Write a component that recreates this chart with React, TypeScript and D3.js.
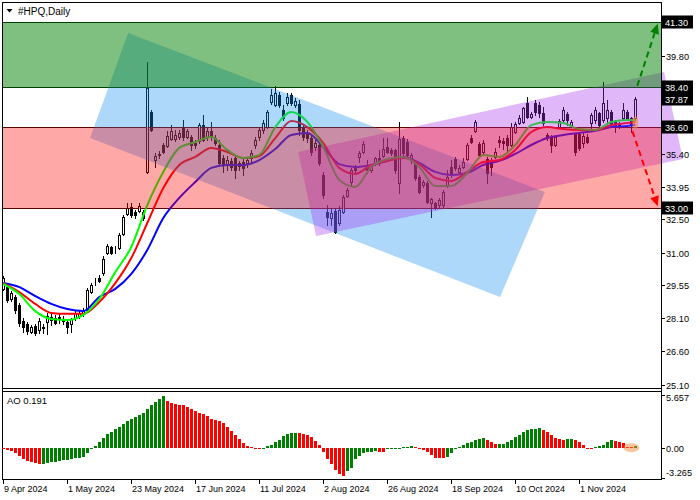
import React from "react";
import * as d3 from "d3";

const symbolTitle = "#HPQ,Daily";

const openP = [29.39,29.47,28.94,29.03,28.67,27.96,27.82,27.47,27.73,27.56,
27.69,27.91,28.00,28.09,28.14,28.05,27.91,27.82,28.09,28.18,
28.32,28.45,29.25,29.73,29.88,30.10,30.99,31.26,31.17,31.21,
31.84,32.73,33.04,32.82,32.87,32.82,34.61,37.28,35.14,35.37,
35.81,35.77,36.08,36.08,36.17,36.61,36.17,36.17,35.90,35.99,
36.70,36.17,36.43,36.12,35.81,35.23,34.92,35.10,35.23,35.01,
35.05,35.01,35.23,35.81,36.17,36.48,36.61,37.73,37.60,38.04,
37.37,37.69,38.04,37.60,37.64,36.57,36.35,36.12,35.72,35.81,
34.47,32.82,32.55,32.87,32.33,32.82,33.54,34.16,34.83,35.28,
35.50,34.92,34.70,35.01,35.23,35.32,35.72,35.59,35.59,34.12,
36.12,35.94,35.14,35.01,34.38,34.03,34.12,33.22,33.22,33.13,
33.13,34.03,34.83,35.19,34.61,34.83,35.19,36.12,36.43,35.86,
35.50,35.19,35.05,35.28,36.03,35.99,36.12,35.81,36.39,36.79,
36.84,37.69,37.06,37.69,37.60,37.24,36.26,36.17,35.81,36.61,
36.93,37.19,36.70,36.30,36.30,35.90,36.17,36.79,36.93,37.24,
36.93,37.02,37.28,36.84,36.79,37.02,37.28,37.02,37.02];

const highP = [29.97,29.65,29.30,29.12,28.76,28.09,27.91,27.78,27.82,28.09,
27.82,28.32,28.32,28.23,28.27,28.18,28.00,28.09,28.41,28.45,
28.54,29.43,29.65,29.88,30.01,30.86,31.39,31.30,31.30,31.88,
32.69,33.22,33.22,32.91,33.22,32.91,39.52,37.37,35.45,35.54,
35.90,36.43,36.70,36.48,36.48,36.93,36.52,36.26,36.03,36.79,
37.15,36.57,36.84,36.26,36.03,35.37,35.32,35.23,35.37,35.10,
35.23,35.28,35.59,36.17,36.61,36.93,37.37,38.31,38.44,38.17,
37.60,38.13,38.13,37.91,37.82,36.70,36.48,36.21,36.03,35.90,
34.61,33.13,33.00,33.00,33.09,33.58,33.89,34.79,34.92,35.54,
35.99,35.14,34.92,35.28,35.59,36.12,36.12,35.68,35.63,36.84,
36.21,36.08,35.45,35.10,34.47,34.25,34.21,33.45,33.27,33.45,
33.80,34.70,35.14,35.28,34.92,35.23,35.90,36.26,36.93,35.94,
36.03,35.28,35.23,35.68,36.21,36.12,36.26,36.79,36.84,37.15,
37.51,37.95,37.28,37.82,37.73,37.51,36.35,36.26,36.26,36.97,
37.51,37.28,36.93,36.34,36.39,36.34,36.30,37.24,37.51,37.28,
38.62,37.82,37.37,36.93,36.84,37.69,37.37,37.06,37.95];

const lowP = [29.34,28.81,28.85,28.32,27.73,27.47,27.38,27.42,27.33,27.42,
27.42,27.38,27.78,27.82,27.87,27.82,27.42,27.47,28.00,28.09,
28.18,28.36,29.21,29.56,29.70,30.01,30.95,30.95,30.99,31.17,
31.79,32.69,32.60,32.55,32.82,32.47,34.56,36.43,34.83,35.23,
35.45,35.72,36.03,35.99,36.08,36.03,36.12,35.59,35.68,35.90,
35.99,36.03,36.03,35.81,34.92,34.61,34.70,34.70,34.34,34.70,
34.47,34.83,35.05,35.68,36.03,36.35,36.57,37.64,37.55,37.51,
36.93,37.60,37.60,37.51,36.26,36.03,35.94,35.37,35.59,34.92,
33.45,32.24,32.24,31.88,32.24,32.78,33.49,34.03,34.61,35.05,
35.45,34.56,34.61,34.92,34.92,35.28,35.45,35.37,34.56,33.67,
35.37,35.23,35.01,34.25,33.67,33.94,33.22,32.60,32.96,33.04,
33.04,33.94,34.38,34.70,34.56,34.79,35.14,35.90,36.39,35.28,
35.37,34.12,34.47,35.23,35.72,35.63,35.50,35.77,36.35,36.75,
36.79,37.02,37.02,37.15,37.06,36.70,36.03,35.50,35.77,36.57,
36.84,36.70,36.61,35.37,35.59,35.72,35.90,36.48,36.79,36.61,
36.84,36.84,36.66,36.39,36.57,36.93,36.93,36.39,36.93];

const closeP = [29.88,28.90,29.21,28.45,27.87,27.69,27.51,27.69,27.42,27.96,
27.64,28.18,28.14,27.87,28.09,27.96,27.69,28.05,28.32,28.32,
28.45,29.34,29.56,29.76,29.74,30.72,31.30,30.99,31.15,31.79,
32.60,33.00,32.69,32.69,33.09,32.55,38.36,36.48,35.32,35.41,
35.50,36.21,36.43,36.26,36.35,36.17,36.43,35.81,35.81,36.70,
36.03,36.43,36.17,35.90,35.01,34.92,35.14,34.83,34.70,34.87,
34.79,35.14,35.45,36.03,36.48,36.79,37.28,38.04,38.13,37.60,
37.02,37.95,37.69,37.77,36.48,36.17,36.12,35.50,35.90,35.01,
33.58,32.60,32.78,31.93,32.91,33.49,33.80,34.70,34.70,35.45,
35.86,34.70,34.83,35.23,35.01,35.63,35.50,35.45,34.70,36.08,
35.45,35.37,35.37,34.34,33.71,34.16,33.27,33.40,33.04,33.36,
33.71,34.38,34.47,34.79,34.79,35.05,35.81,35.94,36.84,35.37,
35.90,34.56,34.83,35.50,35.94,35.90,35.81,36.61,36.75,37.02,
37.46,37.06,37.19,37.28,37.24,36.79,36.17,35.81,36.17,36.88,
37.37,36.93,36.84,35.50,35.68,36.21,35.94,37.15,37.37,36.70,
37.69,37.37,36.70,36.61,36.61,37.37,37.02,36.70,37.87];

const aoValues = [-0.18,-0.25,-0.39,-0.61,-0.90,-1.18,-1.40,-1.54,-1.65,-1.76,
-1.72,-1.65,-1.58,-1.50,-1.43,-1.36,-1.30,-1.22,-1.15,-1.08,
-0.97,-0.60,-0.15,0.22,0.57,1.04,1.43,1.65,1.97,2.26,
2.58,2.83,3.08,3.33,3.55,3.69,4.12,4.59,4.87,5.20,
5.56,5.02,4.84,4.70,4.62,4.55,4.41,4.19,3.94,3.76,
3.58,3.41,3.05,2.94,2.83,2.69,2.26,1.83,1.36,0.90,
0.50,0.18,0.07,-0.07,-0.14,-0.10,0.18,0.29,0.61,0.86,
1.29,1.47,1.58,1.61,1.58,1.50,1.32,1.10,0.68,0.29,
-0.43,-1.25,-1.76,-2.40,-2.87,-3.01,-2.47,-2.22,-1.22,-0.90,
-0.61,-0.50,-0.43,-0.40,-0.45,-0.46,-0.18,-0.14,-0.07,-0.04,
0.02,0.10,0.13,0.10,-0.04,-0.22,-0.50,-0.82,-1.08,-1.10,
-1.15,-0.97,-0.54,-0.18,0.11,0.25,0.47,0.65,0.82,0.93,
1.04,0.79,0.57,0.39,0.40,0.42,0.61,0.82,1.18,1.40,
1.68,1.90,2.00,2.02,2.08,1.90,1.65,1.36,1.00,0.93,
0.82,0.90,0.97,0.82,0.61,0.32,0.00,-0.11,0.04,0.14,
0.32,0.61,0.79,0.72,0.65,0.54,0.11,0.10,0.191];

const lineIdx = [0,4,8,12,16,20,24,28,32,36,40,44,48,52,56,60,64,68,72,76,80,84,88,92,96,100,104,108,112,116,120,124,128,132,136,140,144,148,152,156,158];
const lipsVals = [29.61,29.16,28.40,28.05,28.00,28.23,28.94,30.14,31.26,33.13,34.61,35.68,35.94,36.17,35.59,35.23,35.37,36.61,37.28,36.84,35.72,34.25,33.94,34.83,35.19,35.28,34.83,33.98,33.98,34.56,35.37,35.28,35.81,36.70,36.84,36.79,36.52,36.48,36.84,36.93,36.93];
const teethVals = [29.65,29.25,28.72,28.32,28.28,28.28,28.81,29.65,30.77,32.33,33.89,34.92,35.28,35.68,35.50,35.23,35.32,36.12,36.88,36.61,35.90,34.79,34.52,34.92,35.10,35.23,34.96,34.34,34.21,34.61,35.05,35.14,35.59,36.39,36.61,36.52,36.48,36.48,36.70,36.79,36.84];
const jawVals = [29.65,29.47,29.07,28.72,28.49,28.40,29.03,29.39,30.06,31.13,32.55,33.45,34.16,34.79,34.92,34.92,35.14,35.63,36.26,36.35,35.72,34.96,34.83,34.92,35.10,35.28,35.01,34.61,34.47,34.56,34.92,35.10,35.41,35.81,36.12,36.26,36.35,36.44,36.61,36.66,36.70];

const priceTicks = [39.8, 36.8, 35.4, 33.95, 32.5, 31.0, 29.55, 28.1, 26.6, 25.1];
const levelPrices = [41.3, 38.4, 36.6, 33.0];
const currentPrice = 37.87;
const dateTickIdx = [0, 16, 32, 48, 64, 80, 96, 112, 128, 144];
const dateTickLabels = ["9 Apr 2024", "1 May 2024", "23 May 2024", "17 Jun 2024", "11 Jul 2024", "2 Aug 2024", "26 Aug 2024", "18 Sep 2024", "10 Oct 2024", "1 Nov 2024"];
const aoTicks = [5.657, 0, -3.265];
const aoTickLabels = ["5.657", "0.00", "-3.265"];
const aoLabel = "AO 0.191";

const blueChannel = [[31.2, 40.81], [135.4, 33.71], [124.2, 29.03], [21.7, 36.12]];
const purpleChannel = [[73.7, 35.5], [165.2, 39.07], [169.9, 35.19], [78.2, 31.75]];
const upperZone = [41.3, 38.4];
const lowerZone = [36.6, 33.0];
const upArrow = [[158.5, 38.45], [163.6, 41.22]];
const downArrow = [[157.3, 36.42], [163.6, 33.08]];
const markBar = 158;
const markPrice = 36.8;
const aoMarkBar = 157;

const FONT = "'Liberation Sans', Arial, sans-serif";

export default function App() {
  const plotL = 3, plotR = 661, mainTop = 3, mainBot = 388;
  const x = d3.scaleLinear().domain([0, 158]).range([3.3, 635.3]);
  const y = d3.scaleLinear().domain([24.97, 42.19]).range([388, 2]);
  const ao = d3.scaleLinear().domain([-3.265, 5.657]).range([478, 395]);

  const px = (i: number) => Math.round(x(i));
  const candles = openP.map((o, i) => {
    const c = closeP[i], h = highP[i], l = lowP[i];
    const cx = px(i);
    const top = Math.round(y(Math.max(o, c)));
    const bot = Math.round(y(Math.min(o, c)));
    const bull = c >= o;
    return (
      <g key={i}>
        <line x1={cx + 0.5} x2={cx + 0.5} y1={Math.round(y(h))} y2={Math.round(y(l)) + 1} stroke="#000" strokeWidth={1} />
        <rect x={cx - 0.5} y={top + 0.5} width={2} height={Math.max(bot - top, 0)} fill={bull ? "#fff" : "#000"} stroke="#000" strokeWidth={1} />
      </g>
    );
  });

  const mkLine = (vals: number[]) =>
    d3.line<number>().x((_, k) => x(lineIdx[k])).y((v) => y(v)).curve(d3.curveMonotoneX)(vals) || "";

  const poly = (pts: number[][]) => pts.map((p) => `${x(p[0])},${y(p[1])}`).join(" ");

  const arrow = (seg: number[][], color: string) => {
    const x1 = x(seg[0][0]), y1 = y(seg[0][1]), x2 = x(seg[1][0]), y2 = y(seg[1][1]);
    const dx = x2 - x1, dy = y2 - y1, len = Math.hypot(dx, dy);
    const ux = dx / len, uy = dy / len;
    const hl = 10, hw = 4.5;
    const bx = x2 - ux * hl, by = y2 - uy * hl;
    const head = `${x2},${y2} ${bx - uy * hw},${by + ux * hw} ${bx + uy * hw},${by - ux * hw}`;
    return (
      <g>
        <line x1={x1} y1={y1} x2={bx} y2={by} stroke={color} strokeWidth={2} strokeDasharray="6,4" />
        <polygon points={head} fill={color} />
      </g>
    );
  };

  const labelBox = (p: number, text: string, key: string) => {
    const yy = Math.round(y(p));
    return (
      <g key={key}>
        <rect x={662} y={yy - 6.5} width={31} height={13} fill="#000" />
        <text x={665} y={yy + 3.5} fontSize={9.2} fill="#fff" fontFamily={FONT}>{text}</text>
      </g>
    );
  };

  const aoZero = Math.round(ao(0));

  return (
    <svg width={700} height={500} style={{ position: "fixed", left: 0, top: 0, background: "#fff", display: "block" }}>
      <defs>
        <clipPath id="plotClip">
          <rect x={plotL} y={mainTop} width={plotR - plotL} height={mainBot - mainTop} />
        </clipPath>
        <clipPath id="fullClip">
          <rect x={plotL} y={mainTop} width={700 - plotL} height={mainBot - mainTop} />
        </clipPath>
      </defs>
      <rect x={0} y={0} width={700} height={500} fill="#fff" />

      <g clipPath="url(#plotClip)">
        {levelPrices.map((p) => (
          <line key={p} x1={plotL} x2={plotR} y1={Math.round(y(p)) + 0.5} y2={Math.round(y(p)) + 0.5} stroke="#000" strokeWidth={1} />
        ))}
        {candles}
        <path d={mkLine(jawVals)} fill="none" stroke="#0000ff" strokeWidth={2} />
        <path d={mkLine(teethVals)} fill="none" stroke="#ff0000" strokeWidth={2} />
        <path d={mkLine(lipsVals)} fill="none" stroke="#00ff00" strokeWidth={2} />
      </g>

      <g clipPath="url(#fullClip)">
        <polygon points={poly(blueChannel)} fill="#1590f1" fillOpacity={0.35} />
        <polygon points={poly(purpleChannel)} fill="#a634f1" fillOpacity={0.35} />
        <rect x={plotL} y={Math.round(y(lowerZone[0]))} width={plotR - plotL}
          height={Math.round(y(lowerZone[1])) - Math.round(y(lowerZone[0])) + 1} fill="#ff0606" fillOpacity={0.35} />
        <rect x={plotL} y={Math.round(y(upperZone[0]))} width={plotR - plotL}
          height={Math.round(y(upperZone[1])) - Math.round(y(upperZone[0])) + 1} fill="#008000" fillOpacity={0.5} />
        <ellipse cx={x(markBar)} cy={y(markPrice)} rx={3} ry={6.5} fill="#f08a3c" fillOpacity={0.6} />
      </g>

      {arrow(upArrow, "#008000")}
      {arrow(downArrow, "#ff0000")}

      <g stroke="#000" strokeWidth={1} fill="none">
        <line x1={2.5} x2={2.5} y1={2} y2={480} />
        <line x1={2} x2={662} y1={2.5} y2={2.5} />
        <line x1={661.5} x2={661.5} y1={2} y2={480} />
        <line x1={2} x2={662} y1={388.5} y2={388.5} />
        <line x1={2} x2={662} y1={391.5} y2={391.5} />
        <line x1={2} x2={662} y1={479.5} y2={479.5} />
      </g>

      <polygon points="6.5,9 12.5,9 9.5,12.5" fill="#000" />
      <text x={18} y={15} fontSize={10} fontFamily={FONT} fill="#000">{symbolTitle}</text>

      {priceTicks.map((p) => {
        const yy = Math.round(y(p));
        return (
          <g key={p}>
            <line x1={662} x2={665} y1={yy + 0.5} y2={yy + 0.5} stroke="#000" />
            <text x={666} y={yy + 3.5} fontSize={9.2} fontFamily={FONT} fill="#000">{p.toFixed(2)}</text>
          </g>
        );
      })}
      {labelBox(41.3, "41.30", "b1")}
      {labelBox(38.4, "38.40", "b2")}
      {labelBox(currentPrice, currentPrice.toFixed(2), "b3")}
      {labelBox(36.6, "36.60", "b4")}
      {labelBox(33.0, "33.00", "b5")}

      <g>
        {aoValues.map((v, i) => {
          const up = i === 0 ? false : v > aoValues[i - 1];
          const yv = Math.round(ao(v));
          const y0 = Math.min(yv, aoZero), y1 = Math.max(yv, aoZero);
          return (
            <rect key={i} x={px(i) - 1} y={y0} width={3} height={Math.max(y1 - y0, 1)} fill={up ? "#008000" : "#ff0000"} />
          );
        })}
        <ellipse cx={x(aoMarkBar)} cy={ao(0)} rx={8} ry={4.5} fill="#f08a3c" fillOpacity={0.5} />
        <text x={7} y={404} fontSize={9.5} fontFamily={FONT} fill="#000">{aoLabel}</text>
        {aoTicks.map((t, k) => {
          const yy = Math.round(ao(t));
          const ty = k === 0 ? yy + 6 : k === 2 ? yy - 2 : yy + 3.5;
          return (
            <g key={t}>
              <line x1={662} x2={665} y1={yy + 0.5} y2={yy + 0.5} stroke="#000" />
              <text x={666} y={ty} fontSize={9.2} fontFamily={FONT} fill="#000">{aoTickLabels[k]}</text>
            </g>
          );
        })}
      </g>

      {dateTickIdx.map((idx, k) => {
        const xx = px(idx);
        return (
          <g key={idx}>
            <line x1={xx + 0.5} x2={xx + 0.5} y1={480} y2={484} stroke="#000" />
            <text x={xx + 1} y={492} fontSize={9} fontFamily={FONT} fill="#000">{dateTickLabels[k]}</text>
          </g>
        );
      })}
    </svg>
  );
}
